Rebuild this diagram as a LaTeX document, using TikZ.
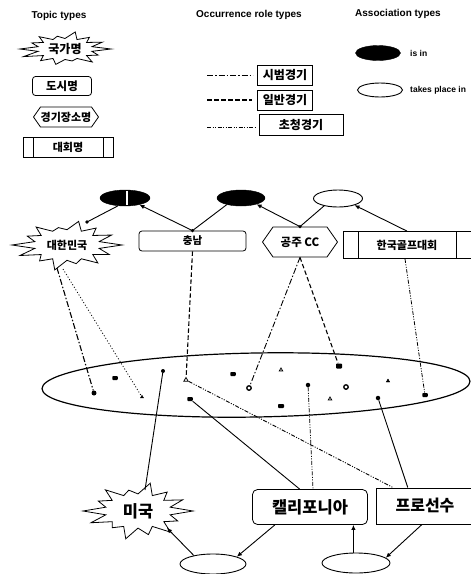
\documentclass[tikz,border=0pt]{standalone}
\usepackage{fontspec}
\setmainfont{Liberation Sans}
\newfontfamily\kr{Noto Sans CJK KR}
\usetikzlibrary{shapes.symbols,shapes.geometric,arrows.meta,calc}
% #1 node name, #2 rx, #3 ry, #4 inner factor, #5 list of 14 outer factors
\newcommand\burstoutline[5]{%
  \draw[line width=0.8pt, shift={(#1.center)}]
    ({-0.5*360/14}:{#2*#4} and {#3*#4})
    foreach \f [count=\i] in {#5} {
      -- ({(\i-1)*360/14}:{#2*\f} and {#3*\f})
      -- ({(\i-0.5)*360/14}:{#2*#4} and {#3*#4})
    } -- cycle;}
\begin{document}
\begin{tikzpicture}[x=1pt,y=-1pt,
  kfont/.style={font={\kr\bfseries\fontsize{#1}{#1}\selectfont}},
  hdr/.style={font={\bfseries\fontsize{#1}{#1}\selectfont}, inner sep=0pt},
  topicstar/.style={rectangle, inner sep=0pt},
  cityrect/.style={rectangle, rounded corners=3pt, draw, line width=0.8pt, inner sep=0pt},
  venuehex/.style={signal, signal to=west and east, signal pointer angle=110, draw, line width=0.8pt, inner sep=0pt},
  eventrect/.style={rectangle, draw, line width=0.8pt, inner sep=0pt,
    path picture={
      \draw[line width=0.7pt] ([xshift=#1]path picture bounding box.north west) -- ([xshift=#1]path picture bounding box.south west);
      \draw[line width=0.7pt] ([xshift=-#1]path picture bounding box.north east) -- ([xshift=-#1]path picture bounding box.south east);}},
  occbox/.style={rectangle, draw, line width=1pt, inner sep=0pt},
  associn/.style={ellipse, draw, fill=black, inner sep=0pt},
  assocat/.style={ellipse, draw, line width=0.9pt, inner sep=0pt},
  mdot/.style={circle, fill=black, inner sep=0pt, minimum size=4.5pt},
  mring/.style={circle, draw, line width=1.3pt, inner sep=0pt, minimum size=4.5pt},
  msq/.style={rectangle, fill=black, rounded corners=0.8pt, inner sep=0pt, minimum width=5.5pt, minimum height=4pt},
  mtri/.style={regular polygon, regular polygon sides=3, draw, line width=0.8pt, inner sep=0pt, minimum size=5pt},
  mtrif/.style={regular polygon, regular polygon sides=3, draw, fill=black, inner sep=0pt, minimum size=5pt},
  lexhib/.style={line width=0.9pt, dash pattern=on 6pt off 2pt on 1.5pt off 2pt},
  lgen/.style={line width=1.1pt, dash pattern=on 4.5pt off 2.5pt},
  linv/.style={line width=0.9pt, dash pattern=on 4pt off 1.5pt on 1pt off 1.5pt on 1pt off 1.5pt},
  ldot/.style={line width=0.8pt, dash pattern=on 1pt off 2pt},
  assoc/.style={line width=0.9pt},
  arr/.style={line width=0.9pt, -{Latex[length=5pt,width=4.5pt]}},
  tdot/.style={fill=black}
]
\useasboundingbox (0,0) rectangle (471,574);
\fill[white] (0,0) rectangle (471,574);

% ---------- legend ----------
\node[hdr=10] (h1) at (59,16) {Topic types};
\node[hdr=10] (h2) at (249,15) {Occurrence role types};
\node[hdr=10] (h3) at (398,14) {Association types};

\node[topicstar, minimum width=90pt, minimum height=33pt, kfont=12] (lg1) at (65,49) {국가명};
\burstoutline{lg1}{46}{17.5}{0.6}{1,0.8,0.95,0.7,0.9,0.85,1,0.98,0.8,0.9,0.75,1,0.85,0.9}
\node[cityrect, minimum width=59pt, minimum height=19pt, kfont=11.5] (lg2) at (62,86) {도시명};
\node[venuehex, minimum width=65pt, minimum height=20pt, kfont=11] (lg3) at (66,117) {경기장소명};
\node[eventrect=10pt, minimum width=90pt, minimum height=20pt, kfont=11] (lg4) at (68,147) {대회명};

\node[occbox, minimum width=55pt, minimum height=20pt, kfont=12] (ob1) at (285,75) {시범경기};
\node[occbox, minimum width=55pt, minimum height=20pt, kfont=12] (ob2) at (285,100) {일반경기};
\node[occbox, minimum width=84pt, minimum height=21pt, kfont=12] (ob3) at (301,125) {초청경기};
\coordinate (oc1) at (207,75);
\coordinate (oc2) at (207,100);
\coordinate (oc3) at (207,127);
\draw[lexhib, shorten >=4pt] (oc1) -- (oc1 -| ob1.west);
\draw[lgen, shorten >=5pt] (oc2) -- (oc2 -| ob2.west);
\draw[linv, shorten >=3pt] (oc3) -- (oc3 -| ob3.west);

\node[associn, minimum width=45pt, minimum height=15pt] (la) at (378,53) {};
\node[assocat, minimum width=45pt, minimum height=14pt] (lb) at (380,90) {};
\node[hdr=8.5, anchor=west] (la-t) at (410,53) {is in};
\node[hdr=8.5, anchor=west] (lb-t) at (410,90) {takes place in};

% ---------- main: upper topics ----------
\node[associn, minimum width=50pt, minimum height=16pt] (e1) at (125,198) {};
\draw[white, line width=1.2pt] ([xshift=2pt,yshift=-1pt]e1.north) -- ([xshift=2pt,yshift=1pt]e1.south);
\node[associn, minimum width=48pt, minimum height=16pt] (e2) at (241,198) {};
\node[assocat, minimum width=49pt, minimum height=17pt] (e3) at (338,198.5) {};

\node[topicstar, minimum width=110pt, minimum height=50pt, kfont=11] (kr) at (67,245) {대한민국};
\burstoutline{kr}{55}{25.5}{0.6}{1,0.85,0.9,0.75,1,0.8,0.95,1,0.8,0.9,0.7,0.95,0.85,0.9}
\node[cityrect, minimum width=107pt, minimum height=20pt, kfont=10.5] (cn) at (192.5,241) {충남};
\node[venuehex, minimum width=75pt, minimum height=30pt, kfont=11.5] (gj) at (300,242) {공주 CC};
\node[eventrect=15pt, minimum width=128pt, minimum height=27pt, kfont=11] (hk) at (407,245) {한국골프대회};

\coordinate (krtop) at ($(kr.center)+(20,-23)$);
\draw[assoc] (krtop) -- (e1.228);
\fill[tdot] (krtop) circle (1.8pt);
\draw[arr] (cn.north) -- (e1.-25);
\draw[assoc] (cn.north) -- (e2.205);
\fill[tdot] (cn.north) circle (1.8pt);
\draw[arr] (gj.north) -- (e2.-22);
\draw[assoc] (gj.north) -- (e3.208);
\fill[tdot] (gj.north) circle (1.8pt);
\draw[arr] (hk.north) -- (e3.-22);

% ---------- occurrence pool ----------
\node[ellipse, draw, line width=1.2pt, minimum width=428pt, minimum height=64pt, rotate=1, inner sep=0pt] (pool) at (256,385) {};

\node[mdot, minimum size=5pt] (p1) at (94,393) {};
\node[msq] (p2) at (115,378) {};
\node[mtrif, minimum size=3.5pt] (p3) at (142,397) {};
\node[mdot, minimum size=4pt] (p4) at (163,371) {};
\node[mtri] (p5) at (186,380) {};
\node[msq] (p6) at (190,399) {};
\node[msq] (p7) at (233,374) {};
\node[mtri, minimum size=4pt] (p8) at (281,370) {};
\node[mring] (p9) at (249,388) {};
\node[msq, minimum width=6pt, minimum height=5pt] (p10) at (339,366) {};
\node[mdot] (p11) at (308,385) {};
\node[msq, minimum width=6pt] (p12) at (281,406) {};
\node[mring] (p13) at (346,387) {};
\node[mtri, minimum size=4pt] (p14) at (330,399) {};
\node[mtrif, minimum size=4pt] (p15) at (388,381) {};
\node[mdot] (p16) at (378,398) {};
\node[msq] (p17) at (425,395) {};

% ---------- bottom topics ----------
\node[topicstar, minimum width=110pt, minimum height=57pt, kfont=16.5] (mg) at (138,511) {미국};
\burstoutline{mg}{55}{28.5}{0.6}{1,0.8,0.95,0.85,1,0.75,0.95,1,0.8,0.95,0.75,1,0.85,0.9}
\node[cityrect, rounded corners=5pt, minimum width=115pt, minimum height=35pt, kfont=16.5] (cal) at (310,507) {캘리포니아};
\node[rectangle, draw, line width=0.9pt, inner sep=0pt, minimum width=98pt, minimum height=36pt, kfont=16] (pro) at (425,506) {프로선수};
\node[assocat, minimum width=66pt, minimum height=20pt] (b1) at (213,564) {};
\node[assocat, minimum width=68pt, minimum height=20pt] (b2) at (356,563) {};

% ---------- occurrence connectors ----------
\draw[lexhib, line width=1.1pt] ($(kr.center)+(-10,23)$) -- (p1);
\draw[ldot] ($(kr.center)+(-4,24)$) -- (p3);
\draw[lgen] (cn.south) -- (p5);
\draw[lexhib] (gj.south) -- (p9);
\draw[lgen] (gj.south) -- (p10);
\draw[linv, line width=0.8pt] ([xshift=-2pt]hk.south) -- (p17);
\draw[linv] (p5) -- (pro.150);
\draw[linv, line width=0.8pt] (p11) -- ([xshift=3pt]cal.north);
\draw[assoc] (p4) -- ($(mg.center)+(7,-21)$);
\draw[assoc] (p6) -- (cal.120);
\draw[assoc] (p16) -- (pro.133);

% ---------- bottom associations ----------
\draw[arr] (b1.156) -- ($(mg.center)+(29,17)$);
\draw[arr] (cal.207) -- (b1.17);
\draw[arr] (b2.104) -- (b2.104 |- cal.south);
\draw[arr] ([xshift=-3pt]pro.south) -- (b2.10);
\end{tikzpicture}
\end{document}
